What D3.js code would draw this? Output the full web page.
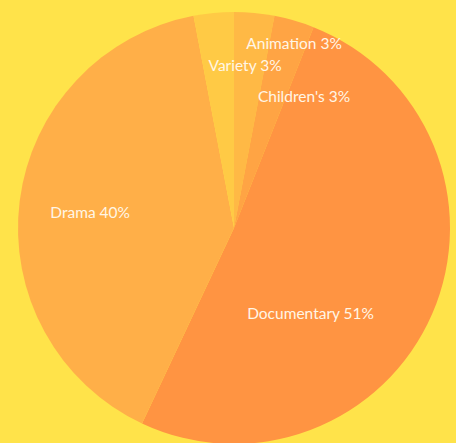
<!DOCTYPE html>
<html>
<head>
<meta charset="utf-8">
<script src="https://cdn.jsdelivr.net/npm/d3@7"></script>
<style>
  html, body { margin: 0; padding: 0; background: #ffe34a; }
  svg { display: block; }
</style>
</head>
<body>
<svg id="chart"></svg>
<script>
// chart data
const genres = ["Animation", "Children's", "Documentary", "Drama", "Variety"];
const shares = [3, 3, 51, 40, 3];
const labels = ["Animation 3%", "Children's 3%", "Documentary 51%", "Drama 40%", "Variety 3%"];

const colors = ["#ffb945", "#ffa444", "#ff9442", "#ffaf48", "#ffca45"];
// label placement: angle in degrees clockwise from top, radius as share of r
const labelPos = [[18, 0.9], [28, 0.69], [138, 0.53], [276.3, 0.67], [3.9, 0.755]];

const w = 456;
const h = 443;
const cx = 234;
const cy = 228;
const r = 216;

const svg = d3.select("#chart").attr("width", w).attr("height", h);

svg.append("rect").attr("width", w).attr("height", h).attr("fill", "#ffe34a");

const pie = d3.pie().sort(null).value((d) => d.value);
const arc = d3.arc().innerRadius(0).outerRadius(r);

const data = genres.map((g, i) => ({ name: g, value: shares[i], label: labels[i], i: i }));

const g = svg.append("g").attr("transform", `translate(${cx}, ${cy})`);

g.selectAll("path")
  .data(pie(data))
  .enter()
  .append("path")
  .attr("d", arc)
  .attr("fill", (d) => colors[d.data.i]);

g.selectAll("text")
  .data(data)
  .enter()
  .append("text")
  .attr("x", (d) => Math.sin((labelPos[d.i][0] * Math.PI) / 180) * labelPos[d.i][1] * r)
  .attr("y", (d) => -Math.cos((labelPos[d.i][0] * Math.PI) / 180) * labelPos[d.i][1] * r)
  .attr("text-anchor", "middle")
  .attr("dominant-baseline", "central")
  .attr("font-family", "Lato, 'Open Sans', sans-serif")
  .attr("font-size", 15.5)
  .attr("fill", "#fff6e6")
  .text((d) => d.label);
</script>
</body>
</html>
